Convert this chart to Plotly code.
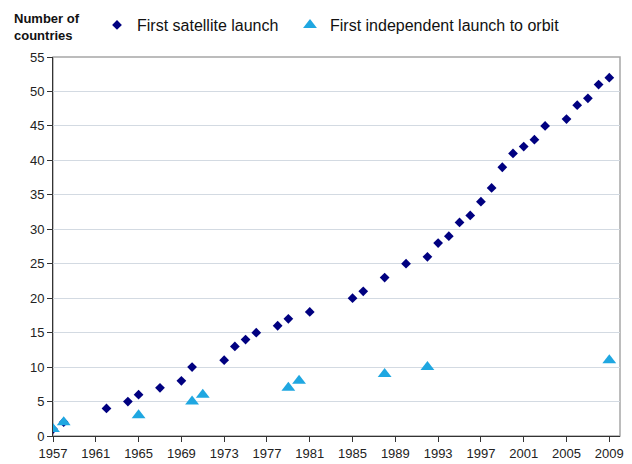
import plotly.graph_objects as go

sat_years = [1957, 1958, 1962, 1964, 1965, 1967, 1969, 1970, 1973, 1974, 1975, 1976,
             1978, 1979, 1981, 1985, 1986, 1988, 1990, 1992, 1993, 1994, 1995, 1996,
             1997, 1998, 1999, 2000, 2001, 2002, 2003, 2005, 2006, 2007, 2008, 2009]
sat_counts = [1, 2, 4, 5, 6, 7, 8, 10, 11, 13, 14, 15,
              16, 17, 18, 20, 21, 23, 25, 26, 28, 29, 31, 32,
              34, 36, 39, 41, 42, 43, 45, 46, 48, 49, 51, 52]

orbit_years = [1957, 1958, 1965, 1970, 1971, 1979, 1980, 1988, 1992, 2009]
orbit_counts = [1, 2, 3, 5, 6, 7, 8, 9, 10, 11]

x_ticks = list(range(1957, 2010, 4))
y_ticks = list(range(0, 56, 5))

FONT = "Liberation Sans, Arial, sans-serif"
W, H = 632, 464
L, R, T, B = 53, 12, 57, 28
PW, PH = W - L - R, H - T - B

fig = go.Figure()
fig.add_trace(go.Scatter(
    x=sat_years, y=sat_counts, mode="markers", name="First satellite launch",
    marker=dict(symbol="diamond", size=7.5, color="#000080"),
    legend="legend",
))
fig.add_trace(go.Scatter(
    x=orbit_years, y=orbit_counts, mode="markers", name="First independent launch to orbit",
    marker=dict(symbol="triangle-up", size=12, color="#1fa7e1"),
    legend="legend2",
))

leg_common = dict(
    orientation="h", xref="container", yref="container",
    xanchor="left", yanchor="middle", y=1 - 25 / H,
    font=dict(family=FONT, size=16, color="#111"),
    itemwidth=30, bgcolor="rgba(0,0,0,0)",
)

fig.update_layout(
    width=W, height=H,
    margin=dict(l=L, r=R, t=T, b=B, autoexpand=False),
    paper_bgcolor="white", plot_bgcolor="white",
    font=dict(family=FONT, size=13, color="#222"),
    showlegend=True,
    legend=dict(x=97 / W, **leg_common),
    legend2=dict(x=290 / W, **leg_common),
    xaxis=dict(
        range=[1957, 2010], tickmode="array", tickvals=x_ticks,
        ticktext=[str(t) for t in x_ticks],
        showgrid=False, zeroline=False,
        showline=True, linecolor="#333", linewidth=1,
        ticks="outside", ticklen=5, tickcolor="#333",
        tickfont=dict(size=13, color="#222"),
    ),
    yaxis=dict(
        range=[0, 55], tickmode="array", tickvals=y_ticks,
        showgrid=True, gridcolor="#d3dae2", gridwidth=1, zeroline=False,
        showline=True, linecolor="#333", linewidth=1,
        ticks="outside", ticklen=5, tickcolor="#333",
        tickfont=dict(size=13, color="#222"),
    ),
    shapes=[dict(type="rect", xref="paper", yref="paper", x0=0, x1=1, y0=0, y1=1,
                 line=dict(color="#a6a6a6", width=1.5), layer="below")],
    annotations=[dict(
        text="Number of<br>countries", xref="paper", yref="paper",
        x=(12 - L) / PW, xanchor="left", y=1 + (T - 9) / PH, yanchor="top",
        showarrow=False, align="left",
        font=dict(family=FONT, size=13, color="#111", weight="bold"),
    )],
)

fig.write_html("out.html", config={"displayModeBar": False},
               post_script="document.body.style.margin='0';")
